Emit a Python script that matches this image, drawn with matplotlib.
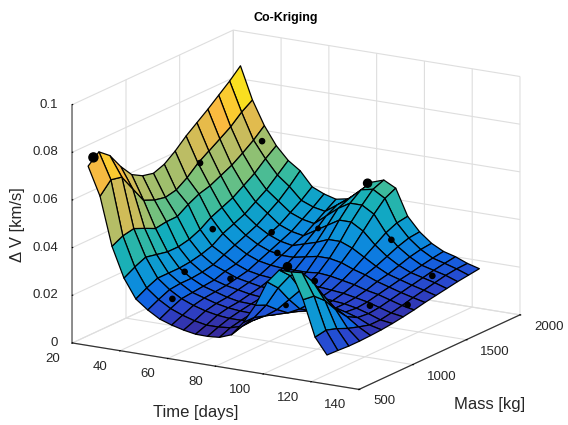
import numpy as np
import matplotlib
matplotlib.use("Agg")
import matplotlib.pyplot as plt
from matplotlib.colors import LinearSegmentedColormap, Normalize
from mpl_toolkits.mplot3d import proj3d

plt.rcParams['font.family'] = ['Liberation Sans', 'DejaVu Sans']

time_days = [23, 28, 33, 38, 43, 48, 53, 58, 63, 68, 73, 78, 83, 88, 93, 98, 103, 108, 113, 118, 123]
mass_kg = [580, 681, 783, 884, 986, 1087, 1189, 1290, 1391, 1493, 1594, 1696, 1797, 1899, 2000]
delta_v = [
 [.073,.0769,.0732,.0665,.061,.0584,.0573,.059,.0624,.0666,.0701,.0736,.0774,.0812,.0855],
 [.0612,.066,.065,.058,.051,.049,.048,.049,.052,.056,.059,.062,.065,.069,.072],
 [.041,.0433,.0442,.0422,.040,.0407,.0408,.0437,.046,.0473,.0495,.0517,.0547,.058,.062],
 [.0285,.031,.033,.032,.031,.031,.032,.034,.037,.039,.041,.044,.047,.051,.0544],
 [.0205,.023,.025,.025,.025,.0255,.0265,.028,.031,.033,.035,.038,.041,.045,.049],
 [.0167,.019,.021,.0215,.0215,.022,.023,.025,.027,.029,.031,.034,.037,.041,.0455],
 [.0137,.016,.018,.0185,.019,.0195,.021,.022,.024,.026,.028,.030,.033,.036,.0396],
 [.012,.014,.016,.017,.0175,.018,.019,.020,.022,.024,.026,.028,.031,.034,.0374],
 [.0107,.0125,.0145,.0155,.016,.017,.018,.019,.021,.023,.025,.027,.030,.033,.036],
 [.0098,.0115,.0135,.0145,.015,.016,.017,.0185,.0205,.023,.0265,.030,.034,.0365,.037],
 [.0097,.0115,.0130,.0140,.0148,.0155,.0168,.0180,.0205,.024,.028,.033,.038,.040,.041],
 [.0101,.0120,.0130,.0138,.0145,.0155,.0168,.0182,.0205,.025,.030,.036,.041,.0445,.0456],
 [.012,.0135,.0138,.0138,.0145,.0155,.0168,.0182,.021,.025,.030,.036,.041,.0455,.0473],
 [.018,.018,.0165,.015,.0148,.0155,.0168,.018,.0205,.024,.028,.033,.038,.0425,.0447],
 [.026,.024,.020,.0165,.015,.0155,.0165,.0175,.0195,.022,.025,.028,.031,.033,.0337],
 [.0366,.032,.025,.019,.016,.0155,.016,.017,.0185,.0205,.022,.024,.026,.0275,.028],
 [.0424,.038,.030,.0225,.0175,.0155,.0155,.016,.017,.0185,.0195,.021,.0225,.0235,.024],
 [.0424,.040,.034,.026,.019,.0150,.0145,.015,.016,.017,.018,.0188,.0198,.0207,.0214],
 [.0316,.031,.027,.021,.016,.0135,.013,.0135,.0145,.0155,.0165,.0175,.0185,.0193,.020],
 [.0167,.0175,.016,.014,.0125,.0112,.0112,.012,.013,.0142,.0152,.0162,.0172,.0178,.0180],
 [.0100,.0098,.0095,.0095,.0097,.010,.0105,.0112,.012,.013,.0138,.0146,.0154,.016,.0166],
]
sample_time = [25, 28, 35, 40, 54, 60, 45, 52, 58, 106, 93, 108, 78, 73, 96, 118, 110, 120]
sample_mass = [585, 1512, 1934, 1363, 1600, 1520, 990, 720, 1128, 590, 866, 800, 1960, 1610, 1781, 1673, 1270, 1398]
sample_dv = [.0769, .0557, .0572, .033, .029, .023, .0237, .0191, .020, .0441, .020, .034, .0460, .0335, .0289, .0196, .0142, .0135]
marker_sizes = [42, 14, 14, 14, 14, 14, 14, 14, 14, 34, 10, 14, 34, 10, 14, 14, 14, 14]
x_ticks = [20, 40, 60, 80, 100, 120, 140]
y_ticks = [500, 1000, 1500, 2000]
z_ticks = [0, 0.02, 0.04, 0.06, 0.08, 0.1]
z_tick_labels = ['0', '0.02', '0.04', '0.06', '0.08', '0.1']

parula = LinearSegmentedColormap.from_list('parula', [
    (0.00, (0.21, 0.17, 0.62)), (0.08, (0.17, 0.27, 0.80)), (0.16, (0.05, 0.42, 0.90)),
    (0.27, (0.05, 0.58, 0.85)), (0.40, (0.07, 0.68, 0.74)), (0.47, (0.22, 0.73, 0.62)),
    (0.56, (0.50, 0.76, 0.47)), (0.70, (0.74, 0.74, 0.39)), (0.85, (0.99, 0.73, 0.24)),
    (1.00, (0.97, 0.96, 0.06))])

X, Y = np.meshgrid(time_days, mass_kg, indexing='ij')
Z = np.array(delta_v)
norm = Normalize(Z.min(), Z.max())
fc = parula(norm(Z))

fig = plt.figure(figsize=(5.68, 4.25), dpi=100)
ax = fig.add_axes([0.0113, -0.0070, 1, 1], projection='3d', computed_zorder=False)
ax.set_proj_type('ortho')
ax.view_init(elev=15.9, azim=-59.4)
ax.set_box_aspect((336, 319, 250), zoom=1.192)
ax.patch.set_alpha(0)

ax.plot_surface(X, Y, Z, facecolors=fc[:-1, :-1], edgecolor='k', linewidth=0.9, shade=False,
                rstride=1, cstride=1, antialiased=True, zorder=2)
ax.scatter(sample_time, sample_mass, sample_dv, c='k', s=marker_sizes, depthshade=False, zorder=3)

ax.set_xlim(20, 140); ax.set_ylim(500, 2000); ax.set_zlim(0, 0.1)
ax.set_xticks(x_ticks); ax.set_yticks(y_ticks); ax.set_zticks(z_ticks)
ax.set_xticklabels([]); ax.set_yticklabels([]); ax.set_zticklabels([])
ax.zaxis.set_ticks_position('lower')
for a in (ax.xaxis, ax.yaxis, ax.zaxis):
    a.set_pane_color((1, 1, 1, 0))
    a._axinfo['grid'].update(color=(0.87, 0.87, 0.87, 1), linewidth=0.8)
    a._axinfo['tick'].update(inward_factor=0.03, outward_factor=0.0)
    a.line.set_color((0.2, 0.2, 0.2)); a.line.set_linewidth(0.9)
ax.zaxis.line.set_color((0.45, 0.45, 0.45)); ax.zaxis.line.set_linewidth(1.1)
ax.zaxis._axinfo['tick'].update(inward_factor=0.0, outward_factor=0.03)

fig.canvas.draw()
tick_color = (0.15, 0.15, 0.15)
W, H = fig.canvas.get_width_height()
def tick_text(x, y, z, s, dx, dy, ha):
    px, py, _ = proj3d.proj_transform(x, y, z, ax.get_proj())
    sx, sy = ax.transData.transform((px, py))
    fig.text((sx + dx) / W, (sy + dy) / H, s, fontsize=9.5, color=tick_color, ha=ha, va='center')
for t in x_ticks:
    tick_text(t, 500, 0, str(t), -12.5, -16, 'right')
for t in y_ticks:
    tick_text(140, t, 0, str(t), 14, -12, 'left')
for t, s in zip(z_ticks, z_tick_labels):
    tick_text(20, 500, t, s, -14, 0, 'right')

fig.text(286/568, 1-18/425, 'Co-Kriging', fontweight='bold', fontsize=9, ha='center', va='center', color='k')
fig.text(196/568, 1-413/425, 'Time [days]', fontsize=12, ha='center', va='center', color=tick_color)
fig.text(490/568, 1-405/425, 'Mass [kg]', fontsize=12, ha='center', va='center', color=tick_color)
fig.text(18/568, 1-225/425, '\u0394 V [km/s]', fontsize=12, rotation=90, ha='center', va='center', color=tick_color)

fig.savefig('out.png', dpi=100)
